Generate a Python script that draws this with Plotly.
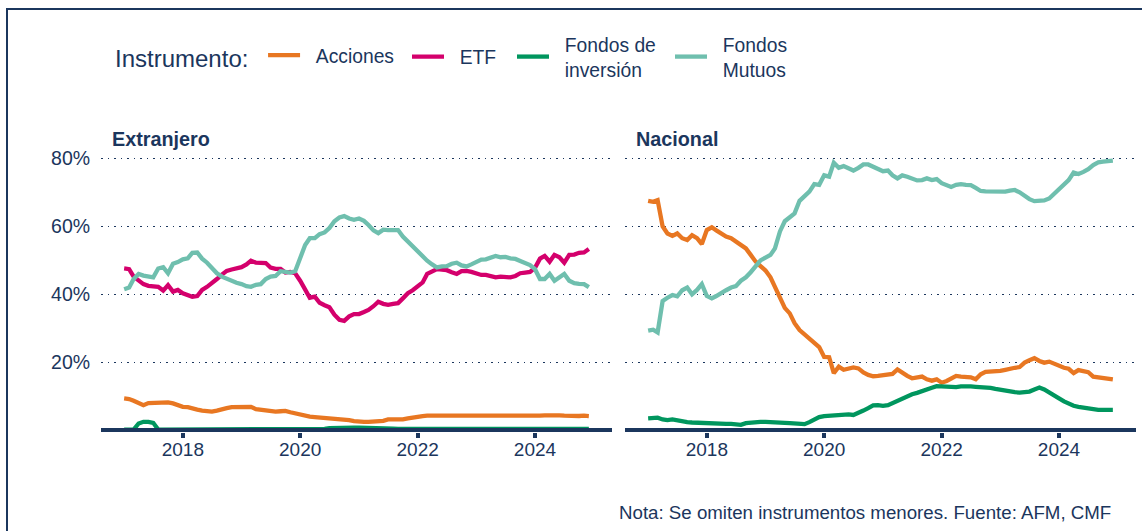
import plotly.graph_objects as go

# ---------------- data (percent of portfolio) ----------------
months = [f"{y}-{m:02d}-01" for y in range(2017, 2025) for m in range(1, 13)]

series_names = ["Acciones", "ETF", "Fondos de inversión", "Fondos Mutuos"]
NB = "\u00a0\u00a0"
legend_labels = [NB + "Acciones", NB + "ETF",
                 NB + "Fondos de<br>" + NB + "inversión",
                 NB + "Fondos<br>" + NB + "Mutuos"]
colors = ["#E87722", "#D4006C", "#00965E", "#6FBFAE"]

ext_acciones = [9.4, 9.2, 8.7, 8.1, 7.4, 8.0, 8.1, 8.3, 8.4, 8.2, 7.9, 7.3,
                6.9, 6.8, 6.6, 6.1, 5.8, 5.6, 5.5, 5.8, 6.0, 6.5, 6.8, 6.8,
                6.9, 6.9, 6.9, 6.2, 6.0, 5.8, 5.6, 5.5, 5.6, 5.7, 5.3, 4.9,
                4.6, 4.2, 4.0, 3.9, 3.8, 3.7, 3.6, 3.5, 3.4, 3.2, 3.0, 2.7,
                2.5, 2.5, 2.5, 2.5, 2.5, 2.8, 3.2, 3.1, 3.0, 3.2, 3.5, 3.8,
                4.0, 4.2, 4.3, 4.3, 4.3, 4.3, 4.3, 4.3, 4.3, 4.3, 4.3, 4.2,
                4.1, 4.0, 4.2, 4.3, 4.3, 4.2, 4.1, 4.0, 4.1, 4.2, 4.3, 4.3,
                4.2, 4.3, 4.4, 4.5, 4.4, 4.4, 4.3, 4.2, 4.2, 4.2, 4.3, 4.2]

ext_etf = [47.6, 47.4, 45.2, 44.0, 43.0, 42.5, 42.3, 42.2, 41.1, 42.7, 40.8, 41.3,
           40.3, 39.8, 39.3, 39.5, 41.3, 42.2, 43.2, 44.5, 45.8, 46.9, 47.3, 47.6,
           48.0, 48.8, 49.9, 49.3, 49.1, 49.2, 47.9, 47.5, 47.5, 46.4, 46.6, 46.2,
           44.0, 41.5, 39.0, 39.3, 37.5, 36.8, 36.2, 34.0, 32.5, 32.2, 33.5, 34.2,
           34.2, 34.8, 35.4, 36.5, 37.8, 37.2, 36.9, 37.2, 37.4, 38.8, 40.3, 41.2,
           42.2, 43.5, 46.0, 46.8, 47.4, 47.3, 47.1, 46.5, 46.0, 46.8, 46.9, 46.6,
           46.2, 45.7, 45.7, 45.2, 45.0, 45.2, 45.1, 45.0, 45.4, 46.2, 46.4, 46.6,
           47.8, 50.5, 51.3, 49.6, 51.6, 50.9, 49.3, 51.6, 51.7, 52.2, 52.3, 53.3]

ext_finversion = [0.2, 0.2, 0.2, 2.0, 2.5, 2.5, 2.2, 0.2, 0.2, 0.2, 0.2, 0.2,
                  0.2, 0.2, 0.2, 0.2, 0.2, 0.2, 0.2, 0.2, 0.2, 0.2, 0.2, 0.2,
                  0.2, 0.2, 0.2, 0.2, 0.2, 0.2, 0.2, 0.2, 0.2, 0.2, 0.2, 0.2,
                  0.2, 0.2, 0.2, 0.2, 0.2, 0.4, 0.6, 0.7, 0.8, 0.8, 0.8, 0.8,
                  0.8, 0.8, 0.8, 0.8, 0.8, 0.7, 0.6, 0.5, 0.4, 0.4, 0.4, 0.4,
                  0.4, 0.4, 0.4, 0.4, 0.4, 0.4, 0.4, 0.4, 0.4, 0.4, 0.4, 0.4,
                  0.4, 0.4, 0.4, 0.4, 0.4, 0.4, 0.4, 0.4, 0.4, 0.4, 0.4, 0.4,
                  0.4, 0.4, 0.4, 0.4, 0.4, 0.4, 0.4, 0.4, 0.4, 0.4, 0.4, 0.4]

ext_fmutuos = [41.5, 42.0, 44.5, 46.0, 45.5, 45.2, 45.0, 47.6, 48.0, 46.2, 49.0, 49.5,
               50.3, 50.6, 52.2, 52.3, 50.5, 49.3, 47.6, 46.2, 45.2, 44.5, 43.8, 43.4,
               43.0, 42.4, 42.2, 42.8, 43.0, 44.5, 45.2, 45.4, 46.8, 46.6, 46.4, 46.8,
               50.5, 54.5, 56.5, 56.5, 57.7, 58.2, 59.5, 61.5, 62.6, 63.0, 62.3, 61.9,
               62.3, 61.6, 60.4, 58.8, 58.0, 59.0, 58.9, 59.0, 58.9, 57.0, 55.5, 54.5,
               53.0, 51.5, 49.9, 48.8, 47.9, 48.2, 48.3, 49.0, 49.3, 48.5, 48.2, 48.8,
               49.5, 50.2, 50.3, 50.8, 51.3, 50.9, 51.0, 50.6, 50.4, 49.8, 49.3, 48.6,
               47.4, 44.5, 44.5, 46.0, 44.0, 45.0, 46.0, 44.0, 43.3, 43.1, 43.0, 42.1]

nac_acciones = [67.5, 67.2, 67.7, 60.0, 57.9, 57.2, 57.9, 56.5, 56.0, 57.4, 56.5, 54.8,
                58.9, 59.7, 58.8, 57.9, 57.0, 56.5, 55.5, 54.5, 53.5, 51.6, 49.6, 48.3,
                47.0, 45.0, 42.0, 39.0, 36.0, 34.4, 31.5, 29.5, 28.3, 27.1, 25.8, 24.5,
                21.6, 21.5, 16.8, 18.7, 17.8, 18.2, 18.5, 18.2, 17.0, 16.3, 15.9, 16.0,
                16.3, 16.4, 16.6, 17.9, 16.9, 16.0, 15.3, 15.5, 15.8, 15.0, 14.6, 15.0,
                14.0, 14.5, 15.3, 16.0, 15.8, 15.6, 15.6, 15.0, 16.5, 17.2, 17.2, 17.3,
                17.5, 17.8, 18.2, 18.4, 18.6, 19.9, 20.6, 21.2, 20.4, 19.9, 20.2, 19.5,
                18.9, 18.4, 18.1, 16.8, 17.7, 17.5, 17.1, 15.8, 15.6, 15.5, 15.3, 15.0]

nac_finversion = [3.5, 3.6, 3.7, 3.2, 3.0, 3.2, 2.9, 2.5, 2.4, 2.3, 2.2, 2.2,
                  2.1, 2.0, 1.9, 1.9, 1.9, 1.9, 1.9, 1.6, 2.1, 2.3, 2.4, 2.5,
                  2.5, 2.5, 2.5, 2.4, 2.2, 2.1, 1.9, 1.8, 1.8, 2.4, 3.2, 3.9,
                  4.2, 4.3, 4.5, 4.5, 4.7, 4.7, 4.5, 5.0, 5.8, 6.5, 7.3, 7.4,
                  7.2, 7.4, 8.0, 8.7, 9.4, 10.2, 10.6, 11.0, 11.4, 11.9, 12.5, 13.0,
                  12.9, 12.7, 12.6, 12.7, 12.9, 13.0, 12.9, 12.8, 12.8, 12.7, 12.5, 12.2,
                  11.9, 11.6, 11.3, 11.2, 11.1, 11.2, 11.4, 12.0, 12.6, 12.0, 11.0, 10.3,
                  9.4, 8.5, 7.8, 7.2, 6.9, 6.6, 6.4, 6.1, 6.0, 6.0, 6.0, 6.0]

nac_fmutuos = [29.3, 29.6, 28.8, 38.0, 39.0, 39.8, 39.4, 41.2, 42.0, 40.0, 41.3, 43.0,
               39.5, 38.8, 39.5, 40.5, 41.2, 42.0, 42.4, 44.0, 45.0, 46.5, 48.5, 50.0,
               50.8, 51.6, 53.5, 58.5, 61.5, 62.6, 63.8, 67.5, 69.0, 70.2, 72.4, 72.2,
               75.0, 74.6, 78.7, 77.2, 77.7, 77.0, 76.4, 77.2, 78.2, 78.2, 77.6, 77.0,
               76.2, 76.4, 75.0, 74.1, 75.0, 74.6, 74.1, 73.5, 73.6, 74.1, 73.6, 73.9,
               72.7, 72.0, 71.6, 72.2, 72.4, 72.2, 72.1, 71.3, 70.4, 70.3, 70.2, 70.2,
               70.2, 70.2, 70.5, 70.7, 70.0, 69.0, 68.0, 67.4, 67.4, 67.6, 68.2, 69.5,
               71.2, 72.5, 73.6, 75.8, 75.4, 76.0, 76.8, 78.0, 78.8, 79.0, 79.2, 79.3]

panels = ["Extranjero", "Nacional"]
panel_series = {
    "Extranjero": [ext_acciones, ext_etf, ext_finversion, ext_fmutuos],
    "Nacional": [nac_acciones, None, nac_finversion, nac_fmutuos],
}

x_ticks = ["2018-01-01", "2020-01-01", "2022-01-01", "2024-01-01"]
x_ticktext = ["2018", "2020", "2022", "2024"]
y_ticks = [20, 40, 60, 80]
y_ticktext = ["20%", "40%", "60%", "80%"]
x_range = ["2016-08-10", "2025-04-24"]
y_range = [-0.5, 82.45]

note = "Nota: Se omiten instrumentos menores. Fuente: AFM, CMF"

# ---------------- style ----------------
NAVY = "#1B365D"
FONT = "Liberation Sans, Arial, sans-serif"
W, H = 1142, 531
ML, MR, MT, MB = 101, 6, 150, 99
PW = W - ML - MR
PH = H - MT - MB


def px_x(p):
    return (p - ML) / PW


def px_y(p):
    return (MT + PH - p) / PH


legend_ids = ["legend", "legend2", "legend3", "legend4"]

fig = go.Figure()
axes = [("x", "y"), ("x2", "y2")]
for p, (xa, ya) in zip(panels, axes):
    for k, vals in enumerate(panel_series[p]):
        if vals is None:
            continue
        fig.add_trace(go.Scatter(
            x=months, y=vals, mode="lines", name=legend_labels[k],
            legendgroup=series_names[k], showlegend=(p == "Extranjero"),
            legend=legend_ids[k],
            line=dict(color=colors[k], width=4.3),
            xaxis=xa, yaxis=ya, hoverinfo="skip",
        ))

xcommon = dict(type="date", range=x_range, tickvals=x_ticks, ticktext=x_ticktext,
               showgrid=False, zeroline=False, showline=False,
               ticks="outside", ticklen=5, tickwidth=4, tickcolor=NAVY,
               ticklabelstandoff=-5,
               tickfont=dict(family=FONT, size=19, color=NAVY))
ycommon = dict(range=y_range, tickvals=y_ticks, ticktext=y_ticktext,
               showgrid=True, gridcolor=NAVY, gridwidth=1.3, griddash="1.5px,5px",
               zeroline=False, showline=False,
               ticks="outside", ticklen=6, tickcolor="rgba(0,0,0,0)",
               tickfont=dict(family=FONT, size=19.5, color=NAVY))

d1 = 511 / PW
d2 = 524 / PW
fig.update_layout(
    xaxis=dict(domain=[0, d1], anchor="y", **xcommon),
    xaxis2=dict(domain=[d2, 1], anchor="y2", **xcommon),
    yaxis=dict(anchor="x", **ycommon),
    yaxis2=dict(anchor="x2", matches="y", showticklabels=False, **ycommon),
)

# baseline at zero for each panel
for xa, ya in axes:
    fig.add_shape(type="line", xref=xa, yref=ya, x0=x_range[0], x1=x_range[1],
                  y0=0, y1=0, line=dict(color=NAVY, width=4.5), layer="above")

# outer frame
fig.add_shape(type="rect", xref="paper", yref="paper",
              x0=px_x(7), x1=px_x(W + 20), y0=px_y(H + 20), y1=px_y(9),
              line=dict(color=NAVY, width=2), fillcolor="rgba(0,0,0,0)", layer="below")

# panel titles
for p, xpx in zip(panels, [110, 634]):
    fig.add_annotation(text=f"<b>{p}</b>", xref="paper", yref="paper",
                       x=px_x(xpx), y=px_y(139),
                       xanchor="left", yanchor="middle", showarrow=False,
                       font=dict(family=FONT, size=19.8, color=NAVY))

# footnote
fig.add_annotation(text=note, xref="paper", yref="paper",
                   x=px_x(1113), y=px_y(512),
                   xanchor="right", yanchor="middle", showarrow=False,
                   font=dict(family=FONT, size=18.7, color=NAVY))

legend_common = dict(orientation="h", xanchor="left", yanchor="middle",
                     valign="middle", y=px_y(57),
                     font=dict(family=FONT, size=19.3, color=NAVY),
                     bgcolor="rgba(0,0,0,0)", borderwidth=0, itemwidth=32,
                     itemclick=False, itemdoubleclick=False)
legend_x = [113, 407, 512, 670]

fig.update_layout(
    width=W, height=H, autosize=False,
    margin=dict(l=ML, r=MR, t=MT, b=MB, pad=0),
    paper_bgcolor="white", plot_bgcolor="white",
    font=dict(family=FONT, color=NAVY),
    showlegend=True,
    legend=dict(x=px_x(legend_x[0]),
                title=dict(text="Instrumento:\u00a0", side="left",
                           font=dict(family=FONT, size=24, color=NAVY)),
                **legend_common),
    legend2=dict(x=px_x(legend_x[1]), **legend_common),
    legend3=dict(x=px_x(legend_x[2]), **legend_common),
    legend4=dict(x=px_x(legend_x[3]), **legend_common),
)

fig.write_html("out.html", config={"displayModeBar": False, "staticPlot": True},
               post_script="document.body.style.margin='0px';")
